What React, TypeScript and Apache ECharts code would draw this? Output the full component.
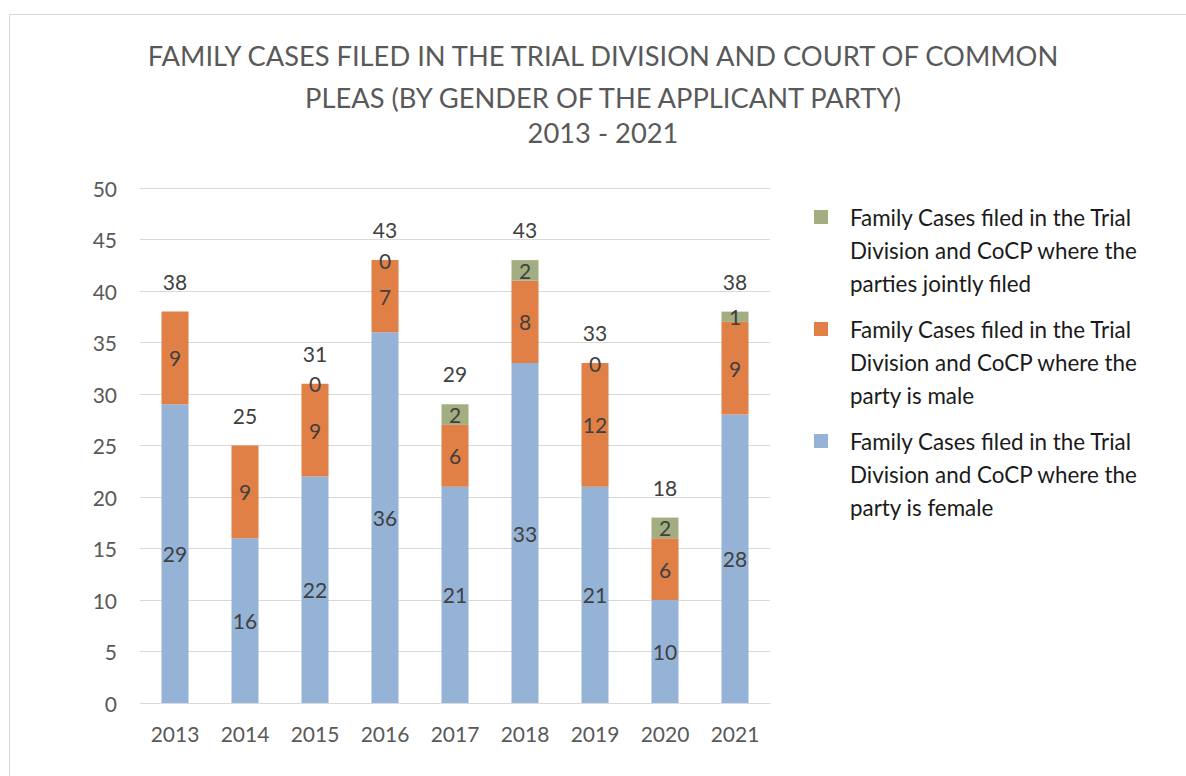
import React, { useEffect, useRef } from "react";
import * as echarts from "echarts";

const years = ["2013", "2014", "2015", "2016", "2017", "2018", "2019", "2020", "2021"];
const female = [29, 16, 22, 36, 21, 33, 21, 10, 28];
const male = [9, 9, 9, 7, 6, 8, 12, 6, 9];
const joint: (number | null)[] = [null, null, 0, 0, 2, 2, 0, 2, 1];
const totals = [38, 25, 31, 43, 29, 43, 33, 18, 38];

const nameJoint = "Family Cases filed in the Trial\nDivision and CoCP where the\nparties jointly filed";
const nameMale = "Family Cases filed in the Trial\nDivision and CoCP where the\nparty is male";
const nameFemale = "Family Cases filed in the Trial\nDivision and CoCP where the\nparty is female";

const titleLines = [
  "FAMILY CASES FILED IN THE TRIAL DIVISION AND COURT OF COMMON",
  "PLEAS (BY GENDER OF THE APPLICANT PARTY)",
  "2013 - 2021",
];

const FONT = "Lato, 'Noto Sans', sans-serif";

export default function App() {
  const ref = useRef<HTMLDivElement>(null);
  useEffect(() => {
    if (!ref.current) return;
    const chart = echarts.init(ref.current, undefined, { renderer: "svg" });
    const labelStyle = {
      show: true,
      position: "inside" as const,
      color: "#404040",
      fontSize: 21,
      fontFamily: FONT,
    };
    const LH = 33;
    chart.setOption({
      animation: false,
      backgroundColor: "#ffffff",
      title: titleLines.map((t, i) => ({
        text: t,
        left: 603,
        textAlign: "center",
        top: [41, 83, 118][i],
        padding: 0,
        textStyle: {
          color: "#595959",
          fontSize: 27.3,
          lineHeight: 28,
          fontWeight: "normal",
          fontFamily: FONT,
        },
      })),
      graphic: [
        {
          type: "rect",
          shape: { x: 9.5, y: 14.5, width: 1300, height: 900 },
          style: { fill: "none", stroke: "#d9d9d9", lineWidth: 1 },
          silent: true,
        },
      ],
      legend: {
        orient: "vertical",
        left: 814,
        top: 217 - 2.5 * LH,
        itemWidth: 14,
        itemHeight: 14,
        itemGap: 112 - 5 * LH,
        icon: "rect",
        padding: 0,
        data: [nameJoint, nameMale, nameFemale],
        selectedMode: false,
        formatter: (n: string) => "\n\n" + n,
        textStyle: {
          color: "#1a1a1a",
          fontSize: 22.4,
          lineHeight: LH,
          fontFamily: FONT,
          padding: [0, 0, 0, 17],
        },
      },
      grid: { left: 140, right: 416, top: 188, bottom: 73 },
      xAxis: {
        type: "category",
        data: years,
        axisLine: { lineStyle: { color: "#d9d9d9", width: 1 } },
        axisTick: { show: false },
        axisLabel: { color: "#595959", fontSize: 21, fontFamily: FONT, margin: 20 },
      },
      yAxis: {
        type: "value",
        min: 0,
        max: 50,
        interval: 5,
        axisLine: { show: false },
        axisTick: { show: false },
        splitLine: { lineStyle: { color: "#d9d9d9", width: 1 } },
        axisLabel: { color: "#595959", fontSize: 21, fontFamily: FONT, margin: 23 },
      },
      series: [
        {
          name: nameFemale,
          type: "bar",
          stack: "t",
          data: female,
          barWidth: 27,
          itemStyle: { color: "#95b3d7" },
          label: labelStyle,
        },
        {
          name: nameMale,
          type: "bar",
          stack: "t",
          data: male,
          barWidth: 27,
          itemStyle: { color: "#e07f46" },
          label: labelStyle,
        },
        {
          name: nameJoint,
          type: "bar",
          stack: "t",
          data: joint,
          barWidth: 27,
          itemStyle: { color: "#a2ad82" },
          label: labelStyle,
        },
        {
          name: "Total",
          type: "scatter",
          data: totals,
          symbolSize: 0,
          itemStyle: { opacity: 0 },
          label: {
            show: true,
            position: "top",
            distance: 20,
            color: "#404040",
            fontSize: 21,
            fontFamily: FONT,
            opacity: 1,
          },
          silent: true,
        },
      ],
    });
    return () => chart.dispose();
  }, []);
  return (
    <div
      ref={ref}
      style={{ position: "fixed", left: 0, top: 0, width: 1186, height: 776 }}
    />
  );
}
